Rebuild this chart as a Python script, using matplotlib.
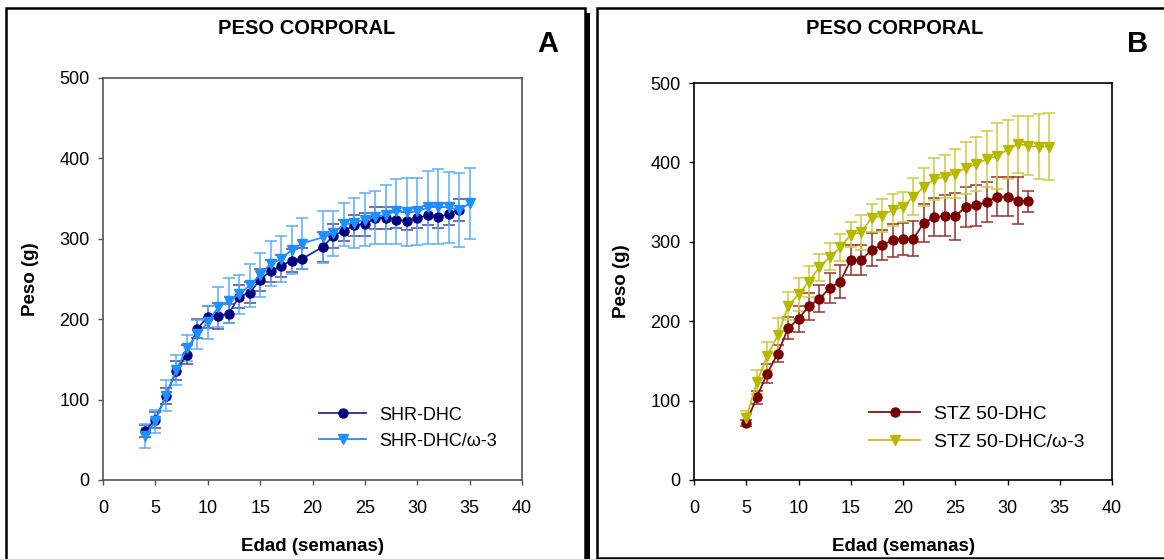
import numpy as np
import matplotlib.pyplot as plt
from matplotlib.patches import Rectangle

plt.rcParams['font.family'] = ['Liberation Sans', 'DejaVu Sans']

# Panel A: SHR rats
shr_x = [4, 5, 6, 7, 8, 9, 10, 11, 12, 13, 14, 15, 16, 17, 18, 19, 21, 22, 23, 24,
         25, 26, 27, 28, 29, 30, 31, 32, 33, 34]
shr_y = [61, 75, 105, 136, 156, 188, 203, 204, 207, 228, 233, 249, 260, 266, 273, 275,
         290, 304, 310, 317, 318, 326, 326, 324, 322, 326, 329, 327, 331, 336]
shr_err = [8, 10, 10, 12, 12, 12, 14, 16, 12, 14, 13, 14, 14, 14, 14, 13,
           19, 15, 13, 13, 14, 14, 14, 11, 11, 12, 12, 13, 14, 14]

shr3_x = [4, 5, 6, 7, 8, 9, 10, 11, 12, 13, 14, 15, 16, 17, 18, 19, 21, 22, 23, 24,
          25, 26, 27, 28, 29, 30, 31, 32, 33, 34, 35]
shr3_y = [55, 73, 105, 137, 164, 181, 196, 215, 223, 231, 242, 255, 269, 275, 286, 294,
          302, 307, 318, 320, 324, 327, 330, 334, 333, 334, 339, 340, 339, 336, 344]
shr3_err = [15, 14, 19, 19, 16, 18, 21, 25, 28, 24, 27, 27, 28, 29, 30, 32,
            32, 28, 27, 31, 33, 33, 37, 40, 42, 42, 45, 47, 44, 46, 44]

# Panel B: STZ rats
stz_x = list(range(5, 33))
stz_y = [72, 104, 134, 159, 191, 203, 219, 228, 242, 250, 277, 277, 290, 296, 302, 304,
         304, 324, 331, 333, 332, 344, 346, 350, 357, 357, 352, 351]
stz_err = [4, 8, 12, 11, 14, 16, 17, 17, 19, 21, 19, 19, 21, 19, 21, 20,
           22, 24, 24, 26, 30, 25, 26, 25, 25, 25, 29, 13]

stz3_x = list(range(5, 35))
stz3_y = [78, 123, 156, 182, 219, 234, 250, 268, 281, 293, 309, 312, 330, 333, 340, 344,
          357, 369, 379, 382, 386, 393, 398, 404, 408, 416, 423, 421, 420, 420]
stz3_err = [9, 15, 18, 22, 18, 21, 20, 17, 17, 17, 16, 22, 18, 21, 20, 19,
            23, 24, 26, 27, 31, 33, 34, 35, 41, 37, 36, 37, 41, 42]

xticks = [0, 5, 10, 15, 20, 25, 30, 35, 40]
yticks = [0, 100, 200, 300, 400, 500]

fig = plt.figure(figsize=(11.64, 5.59), dpi=100)

# panel frames with shadow (behind the axes)
W, H = 1164, 559
def px(x0, y0, w, h):
    return (x0 / W, 1 - (y0 + h) / H, w / W, h / H)

x0, y0, w, h = px(6, 8, 579, 560)
fig.patches.append(Rectangle((x0 + 5 / W, y0 - 5 / H), w, h, transform=fig.transFigure,
                             facecolor='black', edgecolor='none', zorder=-3))
fig.patches.append(Rectangle((x0, y0), w, h, transform=fig.transFigure,
                             facecolor='white', edgecolor='black', lw=1.8, zorder=-2))
x0, y0, w, h = px(597, 8, 580, 550)
fig.patches.append(Rectangle((x0, y0), w, h, transform=fig.transFigure,
                             facecolor='white', edgecolor='black', lw=1.8, zorder=-2))


def panel(rect, spine_color, series, title_x, letter, letter_x, leg_anchor, leg_size):
    ax = fig.add_axes(rect)
    ax.set_facecolor('none')
    for x, y, e, col, lcol, ecol, mk, lab in series:
        ax.errorbar(x, y, yerr=e, fmt='none', ecolor=ecol, elinewidth=1.1,
                    capsize=4, capthick=1.1, zorder=2)
        ax.plot(x, y, color=lcol, lw=1.3, marker=mk, markersize=6.5,
                markerfacecolor=col, markeredgecolor=col, label=lab, zorder=3)
    ax.set_xlim(0, 40)
    ax.set_ylim(0, 500)
    ax.set_xticks(xticks)
    ax.set_yticks(yticks)
    ax.tick_params(direction='out', length=3.5, width=1, labelsize=13, pad=6,
                   color=spine_color)
    ax.tick_params(axis='x', pad=11)
    for s in ax.spines.values():
        s.set_color(spine_color)
        s.set_linewidth(1.2)
    ax.set_xlabel('Edad (semanas)', fontsize=13.5, fontweight='bold', labelpad=15)
    ax.set_ylabel('Peso (g)', fontsize=13.5, fontweight='bold', labelpad=15)
    fig.text(title_x / W, 1 - 28 / H, 'PESO CORPORAL', fontsize=14.5, fontweight='bold',
             ha='center', va='center')
    fig.text(letter_x / W, 1 - 44 / H, letter, fontsize=21, fontweight='bold',
             ha='center', va='center')
    ax.legend(loc='lower right', bbox_to_anchor=leg_anchor, frameon=False, fontsize=leg_size,
              handlelength=2.6, handletextpad=0.7, labelspacing=0.5)
    return ax


panel((103 / W, 1 - 480 / H, 419 / W, 402 / H), '#555555',
      [(shr_x, shr_y, shr_err, '#000080', '#2a2a90', '#4a4a9a', 'o', 'SHR-DHC'),
       (shr3_x, shr3_y, shr3_err, '#1f8fff', '#1f8fff', '#5aaeff', 'v', 'SHR-DHC/ω-3')],
      307, 'A', 548, (0.978, 0.035), 13)

panel((694 / W, 1 - 480 / H, 418 / W, 397 / H), 'black',
      [(stz_x, stz_y, stz_err, '#7a0000', '#8b1010', '#9a3030', 'o', 'STZ 50-DHC'),
       (stz3_x, stz3_y, stz3_err, '#b8b800', '#c2c21a', '#cccc40', 'v', 'STZ 50-DHC/ω-3')],
      895, 'B', 1138, (0.975, 0.03), 14)

fig.savefig('out.png', dpi=100)
